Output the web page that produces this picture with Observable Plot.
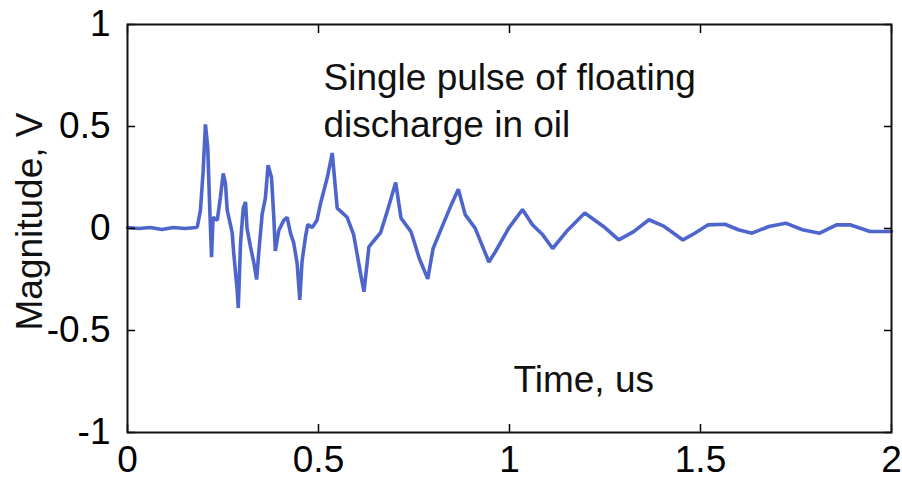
<!DOCTYPE html>
<html>
<head>
<meta charset="utf-8">
<script src="https://cdn.jsdelivr.net/npm/d3@7"></script>
<script src="https://cdn.jsdelivr.net/npm/@observablehq/plot@0.6"></script>
<style>
  html, body { margin: 0; padding: 0; background: #fff; }
  #chart svg { display: block; }
</style>
</head>
<body>
<div id="chart"></div>
<script>
// Time (us)
const times = [
  0, 0.03, 0.06, 0.09, 0.12, 0.15, 0.18,
  0.183, 0.191, 0.198, 0.204, 0.210, 0.2155, 0.220, 0.224, 0.235, 0.243, 0.2505, 0.2565, 0.261,
  0.274, 0.278, 0.287, 0.290, 0.296, 0.303, 0.309, 0.313, 0.322, 0.331, 0.338, 0.344, 0.3525,
  0.361, 0.368, 0.377, 0.383, 0.387, 0.396, 0.409, 0.418, 0.427, 0.435, 0.444, 0.451, 0.457,
  0.466, 0.472, 0.4835, 0.496, 0.505, 0.523, 0.536, 0.549, 0.575, 0.592, 0.610, 0.619, 0.632,
  0.645, 0.6626, 0.680, 0.702, 0.716, 0.742, 0.764, 0.786, 0.800, 0.822, 0.848, 0.866, 0.884,
  0.910, 0.946, 0.963, 0.998, 1.034, 1.060, 1.087, 1.113, 1.149, 1.197, 1.246, 1.286, 1.325,
  1.365, 1.405, 1.454, 1.485, 1.520, 1.564, 1.599, 1.635, 1.679, 1.723, 1.767, 1.812, 1.856,
  1.891, 1.944, 2.0
];
// Magnitude (V)
const magnitudes = [
  0.005, 0, 0.005, -0.005, 0.005, 0, 0.005,
  0.01, 0.09, 0.28, 0.51, 0.40, 0.09, -0.14, 0.055, 0.04, 0.15, 0.27, 0.22, 0.09,
  -0.02, -0.12, -0.30, -0.39, -0.07, 0.10, 0.13, 0.0, -0.09, -0.17, -0.25, -0.11, 0.07,
  0.15, 0.31, 0.25, 0.055, -0.11, -0.01, 0.04, 0.055, -0.025, -0.07, -0.17, -0.35, -0.16,
  -0.04, 0.02, 0.005, 0.04, 0.12, 0.25, 0.37, 0.10, 0.055, -0.03, -0.22, -0.31, -0.09,
  -0.06, -0.02, 0.084, 0.225, 0.051, -0.015, -0.147, -0.247, -0.098, 0.002, 0.118, 0.192, 0.068,
  0.002, -0.164, -0.114, 0.002, 0.093, 0.018, -0.031, -0.098, -0.015, 0.076, 0.010, -0.056, -0.015,
  0.043, 0.010, -0.056, -0.023, 0.018, 0.021, -0.006, -0.023, 0.010, 0.026, -0.006, -0.023, 0.018,
  0.018, -0.015, -0.015
];
const xTicks = [0, 0.5, 1, 1.5, 2];
const yTicks = [-1, -0.5, 0, 0.5, 1];
const annotationText = "Single pulse of floating\ndischarge in oil";
const xLabel = "Time, us";
const yLabel = "Magnitude, V";

const data = times.map((t, i) => ({t, v: magnitudes[i]}));
const font = "'Liberation Sans', Arial, sans-serif";

const chart = Plot.plot({
  width: 902,
  height: 486,
  marginLeft: 127,
  marginRight: 11,
  marginTop: 24,
  marginBottom: 54,
  style: {fontFamily: font, background: "#fff", color: "#000", overflow: "visible"},
  x: {domain: [0, 2]},
  y: {domain: [-1, 1]},
  marks: [
    Plot.line(data, {x: "t", y: "v", stroke: "#4e66cc", strokeWidth: 3.6, strokeLinejoin: "miter"}),
    // tick labels
    Plot.axisX(xTicks, {tickSize: 0, tickPadding: 13, fontSize: 37, label: null, tickFormat: d => String(d)}),
    Plot.axisY(yTicks, {tickSize: 0, tickPadding: 17, fontSize: 37, label: null, tickFormat: d => String(d)}),
    // inward ticks on all four sides
    Plot.axisX(xTicks, {anchor: "bottom", tickSize: -8, text: null, label: null, strokeWidth: 1.5}),
    Plot.axisX(xTicks, {anchor: "top", tickSize: -8, text: null, label: null, strokeWidth: 1.5}),
    Plot.axisY(yTicks, {anchor: "left", tickSize: -8, text: null, label: null, strokeWidth: 1.5}),
    Plot.axisY(yTicks, {anchor: "right", tickSize: -8, text: null, label: null, strokeWidth: 1.5}),
    Plot.frame({stroke: "#111", strokeWidth: 2}),
    // annotations
    Plot.text([annotationText], {
      frameAnchor: "top-left", dx: 196, dy: 32, textAnchor: "start", lineAnchor: "top",
      fontSize: 37, lineHeight: 1.27, fill: "#111", fontFamily: font
    }),
    Plot.text([xLabel], {
      frameAnchor: "top-left", dx: 386, dy: 341, textAnchor: "start", lineAnchor: "top",
      fontSize: 37, fill: "#111", fontFamily: font
    }),
    Plot.text([yLabel], {
      frameAnchor: "left", dx: -86, dy: -7, rotate: -90, textAnchor: "middle", lineAnchor: "bottom",
      fontSize: 37, fill: "#111", fontFamily: font
    })
  ]
});
document.getElementById("chart").appendChild(chart);
</script>
</body>
</html>
